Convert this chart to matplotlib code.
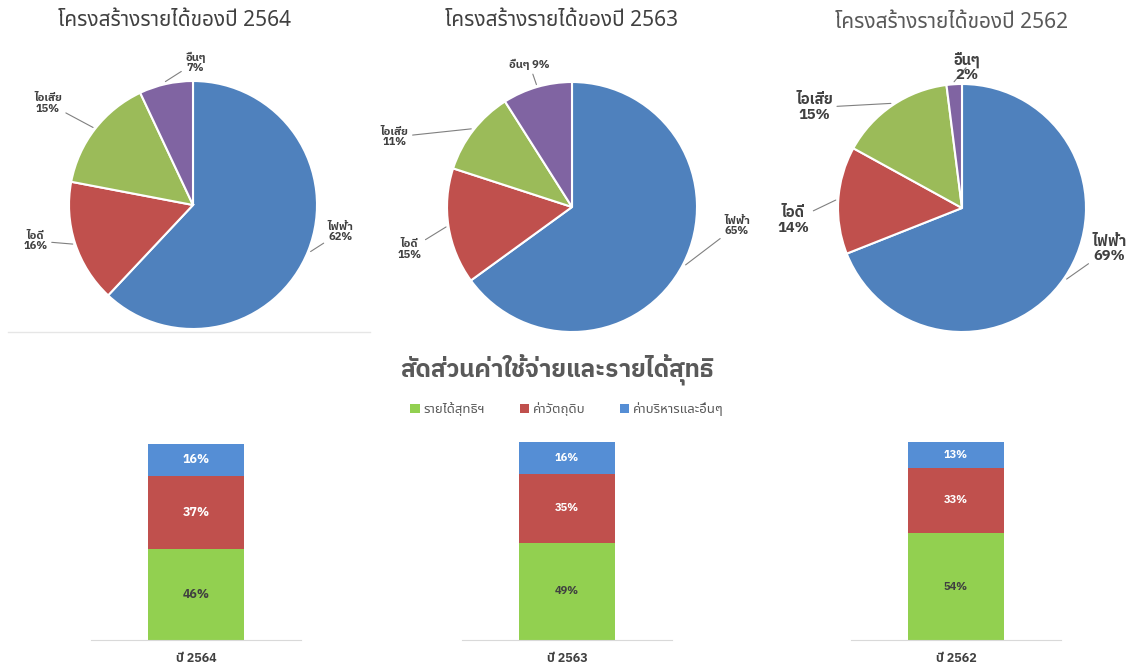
import numpy as np
import matplotlib
matplotlib.use("Agg")
import matplotlib.pyplot as plt
from matplotlib import font_manager
from matplotlib.ft2font import FT2Font
from matplotlib.lines import Line2D

# data
years = ["2564", "2563", "2562"]
pie_labels = ["ไฟฟ้า", "ไอดี", "ไอเสีย", "อื่นๆ"]
pie_2564 = [62, 16, 15, 7]
pie_2563 = [65, 15, 11, 9]
pie_2562 = [69, 14, 15, 2]
pie_values = [pie_2564, pie_2563, pie_2562]

bar_series = ["รายได้สุทธิฯ", "ค่าวัตถุดิบ", "ค่าบริหารและอื่นๆ"]
net_income = [46, 49, 54]
material_cost = [37, 35, 33]
admin_other = [16, 16, 13]


def thai_fonts():
    found = set()
    for f in font_manager.fontManager.ttflist:
        try:
            cmap = FT2Font(f.fname).get_charmap()
        except Exception:
            continue
        if 0x0E01 in cmap and 0x0E44 in cmap:
            found.add(f.name)
    return found


def pick(found, prefs):
    for p in prefs:
        if p in found:
            return p
    return sorted(found)[0] if found else "DejaVu Sans"


found = thai_fonts()
regular_font = pick(found, ["Noto Sans Thai", "IBM Plex Sans Thai"])
bold_font = pick(found, ["IBM Plex Sans Thai", "Noto Sans Thai"])
plt.rcParams["font.family"] = [regular_font, "DejaVu Sans"]
BOLD = [bold_font, "DejaVu Sans"]

W, H = 1141, 671
fig = plt.figure(figsize=(W / 100, H / 100), dpi=100)

pie_colors = ["#4F81BD", "#C0504D", "#9BBB59", "#8064A2"]
# pie layout: centre x, centre y (px from top), radius px
pie_geom = [(193, 205, 124), (572, 207, 125), (962, 208, 124)]
# label text positions in pie units
label_pos = [
    [(1.19, -0.22), (-1.27, -0.29), (-1.17, 0.82), (0.02, 1.15)],
    [(1.32, -0.15), (-1.30, -0.34), (-1.42, 0.56), (-0.34, 1.14)],
    [(1.19, -0.33), (-1.36, -0.10), (-1.19, 0.81), (0.04, 1.14)],
]
title_pos = [(175, 20), (562, 20), (952, 22)]
title_col = ["#404040", "#404040", "#595959"]
lab_size = [8, 8, 10.5]

lim = 1.6
for i, vals in enumerate(pie_values):
    cx, cy, r = pie_geom[i]
    size = 2 * lim * r
    ax = fig.add_axes([(cx - lim * r) / W, (H - cy - lim * r) / H, size / W, size / H])
    wedges, _ = ax.pie(vals, colors=pie_colors, startangle=90, counterclock=False,
                       wedgeprops=dict(edgecolor="white", linewidth=1.5))
    ax.set_xlim(-lim, lim)
    ax.set_ylim(-lim, lim)
    ax.set_aspect("equal")
    for j, w in enumerate(wedges):
        ang = np.deg2rad((w.theta1 + w.theta2) / 2)
        if i == 1 and j == 3:
            txt = f"{pie_labels[j]} {vals[j]}%"
        else:
            txt = f"{pie_labels[j]}\n{vals[j]}%"
        ax.annotate(txt, xy=(1.02 * np.cos(ang), 1.02 * np.sin(ang)), xytext=label_pos[i][j],
                    ha="center", va="center", fontsize=lab_size[i], fontweight="bold",
                    family=BOLD, color="#404040", linespacing=1.05,
                    arrowprops=dict(arrowstyle="-", color="#808080", lw=0.8, shrinkA=1, shrinkB=0))
    tx, ty = title_pos[i]
    fig.text(tx / W, 1 - ty / H, f"โครงสร้างรายได้ของปี {years[i]}", ha="center", va="center",
             fontsize=15, color=title_col[i])

fig.add_artist(Line2D([8 / W, 370 / W], [1 - 332 / H, 1 - 332 / H], color="#e6e6e6", lw=1))

# stacked bars
bar_colors = ["#92D050", "#C0504D", "#558ED5"]
bar_cx = [196, 567, 956]
bar_text_col = ["#404040", "white", "white"]
for i, yr in enumerate(years):
    ax = fig.add_axes([(bar_cx[i] - 105) / W, (H - 640) / H, 210 / W, 198 / H])
    vals = [net_income[i], material_cost[i], admin_other[i]]
    bottom = 0
    for k, v in enumerate(vals):
        ax.bar(0, v, bottom=bottom, width=1.0, color=bar_colors[k], label=bar_series[k])
        ax.text(0, bottom + v / 2, f"{v}%", ha="center", va="center", fontsize=9 if i == 0 else 8,
                fontweight="bold", family=BOLD, color=bar_text_col[k])
        bottom += v
    ax.set_xlim(-1.1, 1.1)
    ax.set_ylim(0, 100)
    for s in ["top", "left", "right"]:
        ax.spines[s].set_visible(False)
    ax.spines["bottom"].set_color("#d9d9d9")
    ax.set_yticks([])
    ax.set_xticks([0])
    ax.set_xticklabels([f"ปี {yr}"], fontsize=9, fontweight="bold", family=BOLD, color="#404040")
    ax.tick_params(axis="x", length=0, pad=9)
    if i == 0:
        handles, labels = ax.get_legend_handles_labels()

fig.text(557 / W, 1 - 370 / H, "สัดส่วนค่าใช้จ่ายและรายได้สุทธิ", ha="center", va="center",
         fontsize=17.5, fontweight="bold", family=BOLD, color="#595959")
fig.legend(handles, labels, loc="center", bbox_to_anchor=(567 / W, 1 - 409 / H), ncol=3,
           frameon=False, fontsize=9.5, labelcolor="#595959", handlelength=0.7, handleheight=0.7,
           handletextpad=0.3, columnspacing=2.6)

fig.savefig("out.png", dpi=100)
